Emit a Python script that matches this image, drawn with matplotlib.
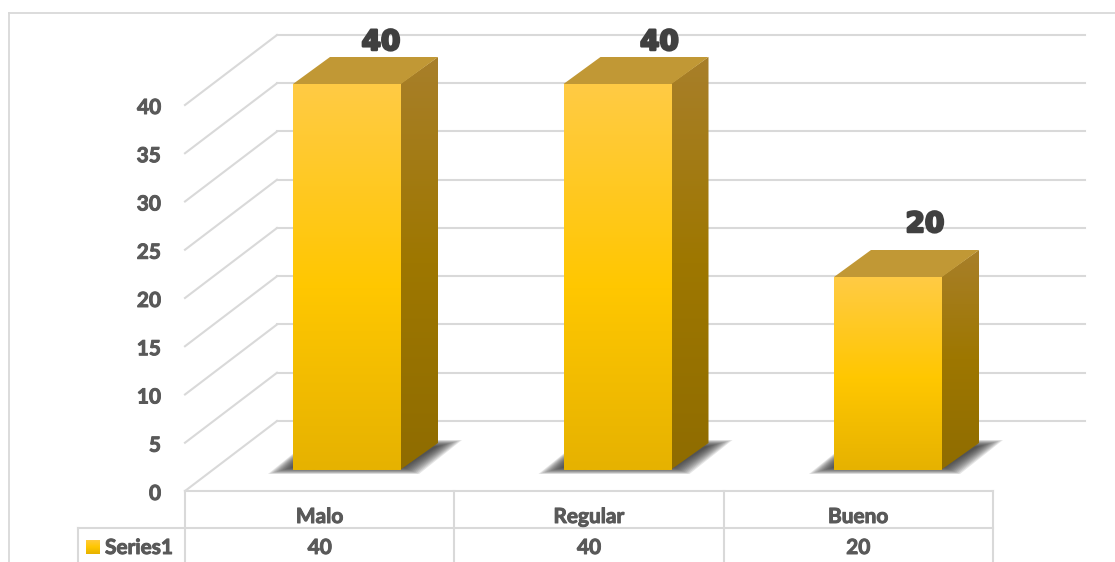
import numpy as np
import matplotlib
matplotlib.use("Agg")
import matplotlib.pyplot as plt
from matplotlib.patches import Polygon
from matplotlib.colors import LinearSegmentedColormap
import matplotlib.patheffects as pe

categories = ["Malo", "Regular", "Bueno"]
values = [40, 40, 20]
y_ticks = [0, 5, 10, 15, 20, 25, 30, 35, 40]
series_name = "Series1"

W, H = 1115, 562
UNIT = 9.65      # pixels per value unit
CAT = 269.3      # pixels per category
GRID = "#d9d9d9"
TEXT = "#595959"
FONT = "Lato"

fig = plt.figure(figsize=(W / 100, H / 100), dpi=100)
ax = fig.add_axes([0, 0, 1, 1])
# x is in categories (0 = left of plot), y is in value units (0 = front floor)
ax.axis("off")

DEPTH_X = 92 / CAT
DEPTH_Y = 70 / UNIT
BAR_W = 108 / CAT
BAR_DX = 37 / CAT
BAR_DY = 27 / UNIT
BAR_STEP = 270.5 / CAT
BASE = 21 / UNIT
LABEL_GAP = [18 / UNIT, 18 / UNIT, 29 / UNIT]
LABEL_DX = [34 / CAT, 42 / CAT, 37 / CAT]

# Lato comes out a bit light here, a thin stroke brings it up to the reference weight
heavy = [pe.withStroke(linewidth=0.7, foreground=TEXT)]


def px_x(p):
    return (p - 185) / CAT


def px_y(p):
    return (491 - p) / UNIT


def gradient_face(pts, cmap, zorder):
    pts = np.array(pts)
    x0, x1 = pts[:, 0].min(), pts[:, 0].max()
    y0, y1 = pts[:, 1].min(), pts[:, 1].max()
    g = np.linspace(0, 1, 256).reshape(-1, 1)
    im = ax.imshow(g, cmap=cmap, extent=(x0, x1, y0, y1), origin="upper",
                   aspect="auto", zorder=zorder)
    clip = Polygon(pts, closed=True, transform=ax.transData, fc="none", ec="none")
    ax.add_patch(clip)
    im.set_clip_path(clip)


front_map = LinearSegmentedColormap.from_list(
    "front", [(0, "#ffcb45"), (0.53, "#ffc700"), (1, "#e6b200")])
side_map = LinearSegmentedColormap.from_list(
    "side", [(0, "#a87f2a"), (0.5, "#9e7700"), (1, "#8f6c00")])

# frame of the chart
ax.plot([px_x(9), px_x(9)], [px_y(13), px_y(562)], color=GRID, lw=1.3, zorder=1)
ax.plot([px_x(9), px_x(1115)], [px_y(13), px_y(13)], color=GRID, lw=1.3, zorder=1)

# back wall grid and its side lines
right = px_x(1085)
for v in y_ticks:
    ax.plot([DEPTH_X, right], [v + DEPTH_Y, v + DEPTH_Y], color=GRID, lw=1.5, zorder=1)
    ax.plot([0, DEPTH_X], [v, v + DEPTH_Y], color=GRID, lw=1.5, zorder=1)

# table under the plot
n = len(categories)
ax.plot([0, n], [0, 0], color=GRID, lw=1.5, zorder=1)
ax.plot([px_x(78), n], [px_y(528), px_y(528)], color=GRID, lw=1.5, zorder=1)
for i in range(n + 1):
    ax.plot([i, i], [0, px_y(562)], color=GRID, lw=1.5, zorder=1)
ax.plot([px_x(78), px_x(78)], [px_y(528), px_y(562)], color=GRID, lw=1.5, zorder=1)

# bars
for i, (cat, val) in enumerate(zip(categories, values)):
    xl = px_x(293) + i * BAR_STEP
    xr = xl + BAR_W
    top = BASE + val

    # soft shadow on the floor, stacked from the outer edge inwards
    for k in range(13):
        ix = k * 1.3 / CAT
        iy = k * 0.55 / UNIT
        shade = Polygon([(xl - 25 / CAT + ix * 1.6, BASE - 4 / UNIT + iy),
                         (xr + 18 / CAT - ix, BASE - 4 / UNIT + iy),
                         (xr + 61 / CAT - ix * 1.6, BASE + 30 / UNIT - iy),
                         (xl + 17 / CAT, BASE + 30 / UNIT - iy)],
                        closed=True, fc="#303030", ec="none", alpha=0.12, zorder=2)
        ax.add_patch(shade)

    gradient_face([(xr - 1 / CAT, BASE), (xr + BAR_DX, BASE + BAR_DY),
                   (xr + BAR_DX, top + BAR_DY), (xr - 1 / CAT, top)], side_map, 3)
    gradient_face([(xl, BASE), (xr, BASE), (xr, top), (xl, top)], front_map, 4)
    ax.add_patch(Polygon([(xl, top), (xr, top), (xr + BAR_DX, top + BAR_DY),
                          (xl + BAR_DX, top + BAR_DY)],
                         closed=True, fc="#c19835", ec="none", zorder=4))

    # value above the bar
    ax.text(xl + BAR_W / 2 + LABEL_DX[i], top + BAR_DY + LABEL_GAP[i], str(val),
            ha="center", va="center_baseline", fontsize=20, fontweight="bold",
            family="DejaVu Sans", color="#404040",
            path_effects=[pe.withStroke(linewidth=1.8, foreground="#404040")], zorder=6)

    # table cells
    ax.text(i + 0.5, px_y(515), cat, ha="center", va="center_baseline", fontsize=15,
            fontweight="bold", family=FONT, color=TEXT, path_effects=heavy, zorder=6)
    ax.text(i + 0.5, px_y(546), str(val), ha="center", va="center_baseline", fontsize=15,
            fontweight="bold", family=FONT, color=TEXT, path_effects=heavy, zorder=6)

# y axis labels
for v in y_ticks:
    ax.text(px_x(161), v - 1 / UNIT, str(v), ha="right", va="center_baseline", fontsize=15,
            fontweight="bold", family=FONT, color=TEXT, path_effects=heavy, zorder=6)

# legend key in the table
key = [(px_x(86), px_y(554)), (px_x(100), px_y(554)), (px_x(100), px_y(540)), (px_x(86), px_y(540))]
gradient_face(key, front_map, 5)
ax.text(px_x(105), px_y(546), series_name, ha="left", va="center_baseline", fontsize=15,
        fontweight="bold", family=FONT, color=TEXT, path_effects=heavy, zorder=6)

ax.set_xlim(-185 / CAT, (W - 185) / CAT)
ax.set_ylim(-(H - 491) / UNIT, 491 / UNIT)
fig.savefig("out.png", dpi=100)
